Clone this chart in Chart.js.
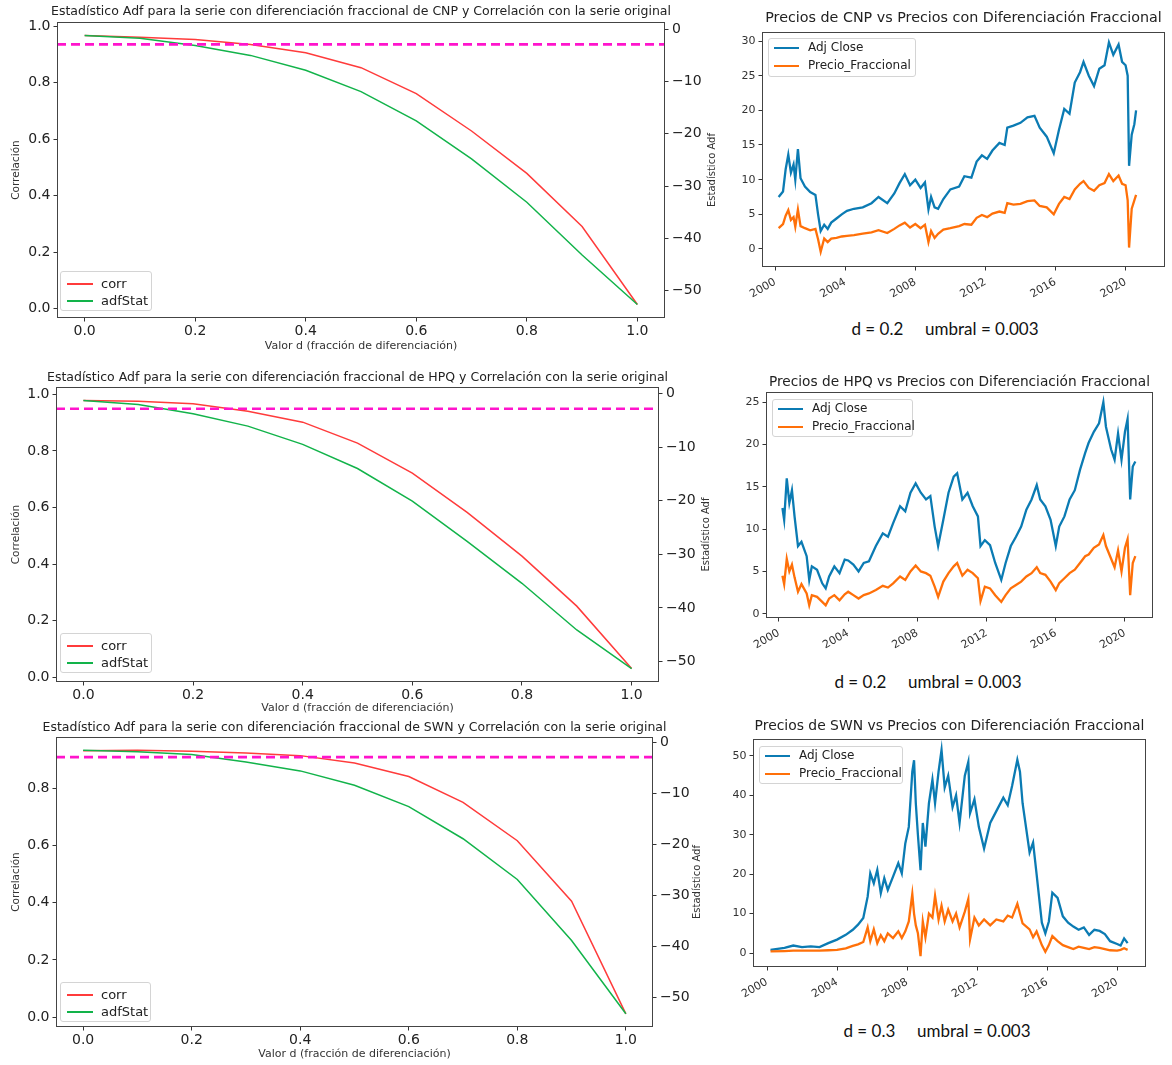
<!DOCTYPE html>
<html>
<head>
<meta charset="utf-8">
<script src="https://cdn.jsdelivr.net/npm/chart.js@4.4.0/dist/chart.umd.min.js"></script>
<style>
  html, body { margin: 0; padding: 0; background: #fff; }
  body { width: 1172px; height: 1065px; overflow: hidden; position: relative; }
  canvas { position: absolute; }
  .legend { position: absolute; z-index: 2; background: rgba(255,255,255,0.85); border: 1px solid #d4d4d4;
            border-radius: 3px; box-sizing: border-box; font-family: 'DejaVu Sans', sans-serif; color: #222; }
  .legend .sw { position: absolute; height: 2px; }
  .legend .lb { position: absolute; white-space: nowrap; line-height: 1; }
  .caption { position: absolute; z-index: 2; font-family: Lato, 'Open Sans', sans-serif; font-size: 17px;
             color: #111; white-space: pre; transform: translate(-50%, -50%); }
</style>
</head>
<body>
<script>
// ---- datos: fracción d, correlación y estadístico ADF ----
const dValues = [0, 0.1, 0.2, 0.3, 0.4, 0.5, 0.6, 0.7, 0.8, 0.9, 1.0];
const cnpCorr = [0.967, 0.961, 0.953, 0.935, 0.906, 0.853, 0.761, 0.629, 0.479, 0.291, 0.015];
const cnpAdf  = [-1.15, -1.7, -3.06, -4.97, -7.83, -11.9, -17.5, -24.8, -33.1, -43.2, -52.7];
const hpqCorr = [0.979, 0.976, 0.967, 0.941, 0.902, 0.828, 0.722, 0.583, 0.428, 0.251, 0.030];
const hpqAdf  = [-1.31, -2.06, -3.8, -6.1, -9.5, -14.0, -20.1, -27.6, -35.4, -44.1, -51.3];
const swnCorr = [0.930, 0.932, 0.928, 0.922, 0.913, 0.887, 0.840, 0.750, 0.616, 0.405, 0.012];
const swnAdf  = [-1.5, -1.83, -2.36, -3.8, -5.57, -8.4, -12.6, -18.9, -26.9, -38.9, -53.3];
const adfCritical = -2.86;

// ---- precios (aprox.) ----
const cnpDates = [2000.2, 2000.45, 2000.6, 2000.75, 2000.9, 2001.05, 2001.15, 2001.3, 2001.45, 2001.7,
  2002.0, 2002.3, 2002.45, 2002.6, 2002.8, 2003.0, 2003.2, 2003.5, 2003.8, 2004.1,
  2004.5, 2005.0, 2005.5, 2005.9, 2006.4, 2006.8, 2007.1, 2007.4, 2007.7, 2008.0,
  2008.3, 2008.55, 2008.75, 2008.9, 2009.1, 2009.3, 2009.6, 2010.0, 2010.5, 2010.8,
  2011.2, 2011.5, 2011.8, 2012.1, 2012.4, 2012.8, 2013.1, 2013.25, 2013.6, 2014.0,
  2014.4, 2014.8, 2015.1, 2015.5, 2015.9, 2016.2, 2016.5, 2016.8, 2017.1, 2017.4,
  2017.6, 2017.9, 2018.2, 2018.5, 2018.8, 2019.05, 2019.3, 2019.6, 2019.8, 2020.0,
  2020.12, 2020.2, 2020.35, 2020.5, 2020.6];
const cnpClose = [7.5, 8.3, 11.5, 13.6, 11.0, 12.2, 10.0, 14.4, 10.2, 9.0,
  8.2, 7.8, 5.0, 2.6, 3.5, 2.9, 3.8, 4.4, 5.0, 5.5,
  5.8, 6.0, 6.6, 7.5, 6.6, 8.0, 9.5, 10.8, 9.2, 10.0,
  8.8, 9.6, 5.7, 7.5, 6.0, 5.8, 7.2, 8.6, 9.0, 10.5,
  10.3, 12.6, 13.5, 13.0, 14.2, 15.3, 15.0, 17.5, 17.8, 18.2,
  19.0, 19.2, 17.5, 16.2, 13.8, 17.2, 20.2, 19.5, 24.0, 25.5,
  27.0, 25.0, 23.5, 26.0, 26.5, 29.8, 28.0, 29.5, 27.0, 26.5,
  25.0, 12.0, 16.5, 18.0, 20.0];
const cnpFrac = [3.0, 3.6, 4.8, 5.6, 4.2, 4.6, 3.2, 5.7, 3.3, 3.0,
  2.7, 2.9, 1.4, -0.4, 1.5, 1.0, 1.5, 1.6, 1.8, 1.9,
  2.0, 2.2, 2.4, 2.7, 2.3, 2.9, 3.4, 3.8, 3.1, 3.6,
  3.0, 3.5, 1.0, 2.6, 1.6, 2.2, 2.8, 3.0, 3.3, 3.6,
  3.5, 4.5, 4.9, 4.6, 5.1, 5.4, 5.2, 6.6, 6.4, 6.5,
  6.9, 7.0, 6.2, 6.0, 5.0, 6.5, 7.5, 7.2, 8.6, 9.4,
  9.8, 8.8, 8.4, 9.2, 9.5, 10.8, 9.8, 10.6, 9.4, 9.2,
  7.0, 0.2, 5.8, 7.0, 7.8];

const hpqDates = [2000.2, 2000.3, 2000.45, 2000.6, 2000.75, 2000.9, 2001.1, 2001.3, 2001.6, 2001.75,
  2001.9, 2002.2, 2002.5, 2002.7, 2002.9, 2003.2, 2003.5, 2003.8, 2004.0, 2004.3,
  2004.6, 2004.9, 2005.2, 2005.6, 2006.0, 2006.3, 2006.6, 2007.0, 2007.3, 2007.6,
  2007.9, 2008.2, 2008.5, 2008.75, 2009.0, 2009.2, 2009.5, 2009.8, 2010.1, 2010.3,
  2010.6, 2010.9, 2011.2, 2011.5, 2011.65, 2011.9, 2012.2, 2012.5, 2012.85, 2013.1,
  2013.4, 2013.7, 2014.0, 2014.3, 2014.6, 2014.9, 2015.1, 2015.4, 2015.7, 2016.0,
  2016.2, 2016.5, 2016.8, 2017.1, 2017.4, 2017.7, 2017.9, 2018.2, 2018.5, 2018.75,
  2018.9, 2019.2, 2019.4, 2019.6, 2019.8, 2020.0, 2020.15, 2020.3, 2020.45, 2020.6];
const hpqClose = [12.5, 11.1, 16.0, 13.1, 14.6, 11.5, 8.0, 8.5, 6.8, 4.0,
  5.6, 5.2, 3.6, 3.0, 4.4, 5.6, 4.8, 6.4, 6.3, 5.8,
  5.0, 6.0, 6.2, 8.0, 9.5, 9.1, 10.7, 12.7, 12.1, 14.3,
  15.4, 14.3, 13.5, 13.9, 10.3, 8.0, 11.1, 14.3, 16.2, 16.6,
  13.5, 14.3, 12.7, 11.5, 8.0, 8.7, 8.1, 6.0, 4.0, 6.0,
  8.0, 9.1, 10.3, 12.3, 13.5, 15.2, 13.5, 12.7, 11.1, 8.0,
  10.3, 11.5, 13.5, 14.6, 17.0, 19.0, 20.2, 21.5, 22.5, 25.0,
  22.1, 19.4, 18.2, 21.3, 18.2, 21.5, 23.0, 13.5, 17.4, 18.0];
const hpqFrac = [4.5, 3.5, 6.5, 5.0, 5.8, 4.3, 2.6, 3.5, 2.4, 1.0,
  2.2, 2.0, 1.4, 1.0, 1.8, 2.2, 1.6, 2.3, 2.6, 2.2,
  1.8, 2.2, 2.4, 2.8, 3.3, 3.1, 3.6, 4.4, 4.0, 5.0,
  5.7, 5.0, 4.8, 4.5, 3.2, 2.0, 3.8, 4.8, 5.6, 6.0,
  4.5, 5.2, 4.8, 4.2, 1.5, 3.2, 3.0, 2.2, 1.4, 2.2,
  3.0, 3.4, 3.8, 4.4, 4.8, 5.5, 4.8, 4.6, 3.8, 2.8,
  3.6, 4.2, 4.8, 5.2, 6.0, 6.8, 7.0, 7.8, 8.2, 9.3,
  8.0, 6.5, 5.5, 7.5, 5.0, 7.8, 8.8, 2.2, 6.0, 6.8];

const swnDates = [2000.2, 2001.0, 2001.5, 2002.0, 2002.5, 2003.0, 2003.5, 2004.0, 2004.5, 2004.9,
  2005.2, 2005.5, 2005.75, 2005.9, 2006.1, 2006.3, 2006.5, 2006.7, 2006.9, 2007.2,
  2007.5, 2007.7, 2007.9, 2008.1, 2008.3, 2008.4, 2008.5, 2008.62, 2008.77, 2008.9,
  2009.05, 2009.25, 2009.45, 2009.6, 2009.8, 2009.97, 2010.15, 2010.35, 2010.6, 2010.8,
  2011.0, 2011.3, 2011.5, 2011.6, 2011.85, 2012.1, 2012.4, 2012.75, 2013.1, 2013.5,
  2013.75, 2014.0, 2014.3, 2014.45, 2014.6, 2015.0, 2015.2, 2015.4, 2015.7, 2015.9,
  2016.1, 2016.3, 2016.6, 2016.9, 2017.2, 2017.5, 2017.8, 2018.1, 2018.4, 2018.7,
  2019.0, 2019.3, 2019.6, 2020.0, 2020.2, 2020.4, 2020.6];
const swnClose = [0.8, 1.3, 1.9, 1.5, 1.7, 1.5, 2.5, 3.4, 4.6, 5.9,
  7.2, 8.9, 14.3, 20.2, 17.7, 21.1, 15.2, 19.0, 16.0, 19.4,
  22.8, 20.2, 27.8, 32.0, 46.0, 48.9, 38.0, 30.0, 21.0, 33.0,
  27.0, 38.0, 44.0, 38.0, 46.0, 51.5, 42.0, 45.0, 37.0, 40.0,
  33.0, 45.0, 48.5, 35.5, 39.0, 32.0, 26.5, 33.0, 36.0, 39.4,
  37.5, 42.4, 49.0, 46.0, 38.0, 25.5, 28.0, 20.0, 7.7, 5.0,
  8.0, 15.3, 14.0, 9.3, 7.7, 6.7, 5.9, 6.5, 4.6, 5.9,
  5.6, 4.8, 3.0, 2.3, 1.9, 3.7, 2.5];
const swnFrac = [0.4, 0.5, 0.6, 0.6, 0.6, 0.6, 0.7, 0.8, 1.2, 1.8,
  2.2, 2.8, 6.5, 3.0, 6.0, 2.5, 4.5, 3.0, 5.0, 3.8,
  5.5, 3.8, 5.5, 8.0, 15.0, 10.0, 7.0, 5.0, -0.8, 8.0,
  4.0, 10.0, 9.0, 14.5, 8.5, 12.0, 8.0, 11.0, 8.0, 10.0,
  6.5, 10.5, 13.7, 3.5, 9.0, 7.0, 8.5, 7.0, 8.5, 8.0,
  9.5, 9.0, 12.5, 10.0, 7.5, 6.0, 4.0, 5.5, 2.0, 0.3,
  2.0, 4.3, 3.0, 2.0, 1.5, 1.0, 1.6, 1.3, 1.0, 1.5,
  1.3, 1.0, 0.7, 0.6, 0.8, 1.2, 0.8];

const yearTicks = [2000, 2004, 2008, 2012, 2016, 2020];
const captionD = [0.2, 0.2, 0.3];
const umbral = 0.003;

// ---- estilos / disposición ----
const RED = '#ff3b3b', GREEN = '#12b34a', MAGENTA = '#ff14cc';
const BLUE = '#0b7bb3', ORANGE = '#ff7009';
const FRAME = '#444';

const adfLayouts = [
  { top: 2,   titleY: 12,  plotTop: 22,  plotBottom: 318,  plotLeft: 57, plotRight: 665, xLabelY: 346,  yLabelX: 16, y2LabelX: 712 },
  { top: 366, titleY: 378, plotTop: 387, plotBottom: 682,  plotLeft: 56, plotRight: 659, xLabelY: 708,  yLabelX: 16, y2LabelX: 706 },
  { top: 716, titleY: 728, plotTop: 737, plotBottom: 1027, plotLeft: 56, plotRight: 653, xLabelY: 1054, yLabelX: 16, y2LabelX: 697 },
];
const priceLayouts = [
  { top: 4,   titleY: 18,  titleSize: 14.3, plotTop: 32,  plotBottom: 267, plotLeft: 762, plotRight: 1165,
    xMin: 1999.25, xMax: 2022.25, yMin: -2.6, yMax: 31.3, yStep: 5,
    legend: { left: 768, top: 38, width: 148, height: 39 }, caption: { x: 945, y: 328 } },
  { top: 366, titleY: 382, titleSize: 13.7, plotTop: 392, plotBottom: 618, plotLeft: 766, plotRight: 1153,
    xMin: 1999.25, xMax: 2021.62, yMin: -0.5, yMax: 26.2, yStep: 5,
    legend: { left: 772, top: 399, width: 141, height: 38 }, caption: { x: 928, y: 681 } },
  { top: 710, titleY: 726, titleSize: 13.9, plotTop: 739, plotBottom: 967, plotLeft: 753, plotRight: 1146,
    xMin: 1999.2, xMax: 2021.65, yMin: -3.55, yMax: 54.3, yStep: 10,
    legend: { left: 759, top: 746, width: 144, height: 38 }, caption: { x: 937, y: 1030 } },
];
const adfLegendBoxes = [
  { left: 60, top: 271, width: 92, height: 40 },
  { left: 60, top: 633, width: 92, height: 40 },
  { left: 60, top: 982, width: 91, height: 40 },
];

Chart.defaults.font.family = "'DejaVu Sans', sans-serif";
Chart.defaults.color = '#222';

const framePlugin = {
  id: 'frame',
  afterDatasetsDraw(chart) {
    const { ctx, chartArea: a } = chart;
    ctx.save();
    ctx.strokeStyle = FRAME;
    ctx.lineWidth = 1;
    const l = Math.round(a.left) + 0.5, t = Math.round(a.top) + 0.5;
    const r = Math.round(a.right) - 0.5, b = Math.round(a.bottom) - 0.5;
    ctx.strokeRect(l, t, r - l, b - t);
    ctx.restore();
  }
};

// título del eje derecho, leído de abajo hacia arriba como en matplotlib
function sideTitle(text, x, size) {
  return {
    id: 'sideTitle',
    afterDraw(chart) {
      const { ctx, chartArea: a } = chart;
      ctx.save();
      ctx.translate(x, (a.top + a.bottom) / 2);
      ctx.rotate(-Math.PI / 2);
      ctx.font = size + "px 'DejaVu Sans', sans-serif";
      ctx.fillStyle = '#333';
      ctx.textAlign = 'center';
      ctx.textBaseline = 'middle';
      ctx.fillText(text, 0, 0);
      ctx.restore();
    }
  };
}

function addCanvas(left, top, width, height) {
  const c = document.createElement('canvas');
  c.width = width; c.height = height;
  c.style.left = left + 'px'; c.style.top = top + 'px';
  c.style.width = width + 'px'; c.style.height = height + 'px';
  document.body.appendChild(c);
  return c;
}

function withMargin(values) {
  const lo = Math.min(...values), hi = Math.max(...values);
  const m = (hi - lo) * 0.05;
  return { min: lo - m, max: hi + m };
}

function addLegend(box, rows, o) {
  const el = document.createElement('div');
  el.className = 'legend';
  el.style.left = box.left + 'px'; el.style.top = box.top + 'px';
  el.style.width = box.width + 'px'; el.style.height = box.height + 'px';
  el.style.fontSize = o.fontSize + 'px';
  rows.forEach((r, i) => {
    const y = o.firstY + i * o.rowGap;
    const sw = document.createElement('div');
    sw.className = 'sw';
    sw.style.left = o.swX + 'px'; sw.style.width = o.swW + 'px';
    sw.style.top = (y - 1) + 'px'; sw.style.background = r.color;
    const lb = document.createElement('div');
    lb.className = 'lb';
    lb.style.left = o.textX + 'px'; lb.style.top = (y - o.fontSize / 2 - 1) + 'px';
    lb.textContent = r.label;
    el.appendChild(sw); el.appendChild(lb);
  });
  document.body.appendChild(el);
}

const tickGrid = { drawOnChartArea: false, tickLength: 3.5, color: '#333' };

function adfChart(L, ticker, corr, adf) {
  const width = L.plotLeft + L.plotRight;   // simétrico para centrar el título
  const bottom = L.xLabelY + 8;
  const height = bottom - L.top;
  const canvas = addCanvas(0, L.top, width, height);
  const tSize = 12.5, tLH = tSize * 1.2;
  const padTop = L.titleY - tLH / 2 - L.top;
  const padBottom = L.plotTop - L.top - padTop - tLH;
  const yR = withMargin(corr);
  const y2R = withMargin(adf);
  const xMin = -0.05, xMax = 1.05;
  const xlSize = 11, ylSize = 10.5;

  new Chart(canvas, {
    type: 'line',
    data: {
      datasets: [
        { label: 'corr', data: dValues.map((d, i) => ({ x: d, y: corr[i] })), yAxisID: 'y',
          borderColor: RED, borderWidth: 1.5, pointRadius: 0, order: 3 },
        { label: 'adfStat', data: dValues.map((d, i) => ({ x: d, y: adf[i] })), yAxisID: 'y2',
          borderColor: GREEN, borderWidth: 1.5, pointRadius: 0, order: 2 },
        { label: 'critico', data: [{ x: xMin, y: adfCritical }, { x: xMax, y: adfCritical }], yAxisID: 'y2',
          borderColor: MAGENTA, borderWidth: 2.6, borderDash: [9, 5], pointRadius: 0, order: 1 },
      ]
    },
    options: {
      responsive: false, animation: false, devicePixelRatio: 1,
      layout: { padding: 0 },
      plugins: {
        legend: { display: false }, tooltip: { enabled: false },
        title: { display: true, text: 'Estadístico Adf para la serie con diferenciación fraccional de ' + ticker + ' y Correlación con la serie original',
                 font: { size: tSize, weight: 'normal' }, color: '#222', padding: { top: padTop, bottom: padBottom } },
      },
      scales: {
        x: { type: 'linear', min: xMin, max: xMax,
             ticks: { stepSize: 0.2, includeBounds: false, autoSkip: false, maxRotation: 0, padding: 1,
                      font: { size: 14 }, color: '#222', callback: (v) => v.toFixed(1) },
             grid: tickGrid, border: { display: false },
             title: { display: true, text: 'Valor d (fracción de diferenciación)', font: { size: xlSize }, color: '#333',
                      padding: { top: 0, bottom: bottom - L.xLabelY - xlSize * 0.6 } },
             afterFit: (s) => { s.height = bottom - L.plotBottom; } },
        y: { type: 'linear', position: 'left', min: yR.min, max: yR.max,
             ticks: { stepSize: 0.2, includeBounds: false, padding: 3, font: { size: 14 }, color: '#222',
                      callback: (v) => v.toFixed(1) },
             grid: tickGrid, border: { display: false },
             title: { display: true, text: 'Correlación', font: { size: ylSize }, color: '#333',
                      padding: { top: L.yLabelX - ylSize * 0.6, bottom: 0 } },
             afterFit: (s) => { s.width = L.plotLeft; } },
        y2: { type: 'linear', position: 'right', min: y2R.min, max: y2R.max,
              ticks: { stepSize: 10, includeBounds: false, padding: 3.5, font: { size: 14 }, color: '#222',
                       callback: (v) => v === 0 ? '0' : '\u2212' + Math.abs(v) },
              grid: tickGrid, border: { display: false },
              afterFit: (s) => { s.width = width - L.plotRight; } },
      }
    },
    plugins: [framePlugin, sideTitle('Estadístico Adf', L.y2LabelX, 10)]
  });
}

function priceChart(L, ticker, dates, close, frac) {
  const side = 32;
  const left = L.plotLeft - side;
  const width = L.plotRight + side - left;
  const xH = 45;
  const height = L.plotBottom + xH - L.top;
  const canvas = addCanvas(left, L.top, width, height);
  const tLH = L.titleSize * 1.2;
  const padTop = L.titleY - tLH / 2 - L.top;
  const padBottom = L.plotTop - L.top - padTop - tLH;

  new Chart(canvas, {
    type: 'line',
    data: {
      datasets: [
        { label: 'Adj Close', data: dates.map((d, i) => ({ x: d, y: close[i] })),
          borderColor: BLUE, borderWidth: 2.3, pointRadius: 0, order: 2 },
        { label: 'Precio_Fraccional', data: dates.map((d, i) => ({ x: d, y: frac[i] })),
          borderColor: ORANGE, borderWidth: 2.3, pointRadius: 0, order: 1 },
      ]
    },
    options: {
      responsive: false, animation: false, devicePixelRatio: 1,
      plugins: {
        legend: { display: false }, tooltip: { enabled: false },
        title: { display: true, text: 'Precios de ' + ticker + ' vs Precios con Diferenciación Fraccional',
                 font: { size: L.titleSize, weight: 'normal' }, color: '#222', padding: { top: padTop, bottom: padBottom } },
      },
      scales: {
        x: { type: 'linear', min: L.xMin, max: L.xMax,
             afterBuildTicks: (s) => { s.ticks = yearTicks.map((v) => ({ value: v })); },
             ticks: { minRotation: 30, maxRotation: 30, autoSkip: false, padding: 5, font: { size: 11 }, color: '#333',
                      callback: (v) => String(v) },
             grid: tickGrid, border: { display: false },
             afterFit: (s) => { s.height = xH; } },
        y: { type: 'linear', position: 'left', min: L.yMin, max: L.yMax,
             ticks: { stepSize: L.yStep, includeBounds: false, padding: 3, font: { size: 11 }, color: '#333' },
             grid: tickGrid, border: { display: false },
             afterFit: (s) => { s.width = side; } },
        yPad: { type: 'linear', position: 'right', display: true,
                ticks: { display: false }, grid: { display: false }, border: { display: false },
                afterFit: (s) => { s.width = side; } },
      }
    },
    plugins: [framePlugin]
  });
}

const adfRows = [
  ['CNP', cnpCorr, cnpAdf],
  ['HPQ', hpqCorr, hpqAdf],
  ['SWN', swnCorr, swnAdf],
];
const priceRows = [
  ['CNP', cnpDates, cnpClose, cnpFrac],
  ['HPQ', hpqDates, hpqClose, hpqFrac],
  ['SWN', swnDates, swnClose, swnFrac],
];

adfRows.forEach(([t, c, a], i) => {
  adfChart(adfLayouts[i], t, c, a);
  addLegend(adfLegendBoxes[i], [{ color: RED, label: 'corr' }, { color: GREEN, label: 'adfStat' }],
            { fontSize: 13, firstY: 12, rowGap: 17, swX: 6, swW: 26, textX: 40 });
});

priceRows.forEach(([t, d, c, f], i) => {
  const L = priceLayouts[i];
  priceChart(L, t, d, c, f);
  addLegend(L.legend, [{ color: BLUE, label: 'Adj Close' }, { color: ORANGE, label: 'Precio_Fraccional' }],
            { fontSize: 12, firstY: 9, rowGap: 18, swX: 5, swW: 25, textX: 39 });
  const cap = document.createElement('div');
  cap.className = 'caption';
  cap.style.left = L.caption.x + 'px';
  cap.style.top = L.caption.y + 'px';
  cap.textContent = 'd = ' + captionD[i] + '     umbral = ' + umbral;
  document.body.appendChild(cap);
});
</script>
</body>
</html>
